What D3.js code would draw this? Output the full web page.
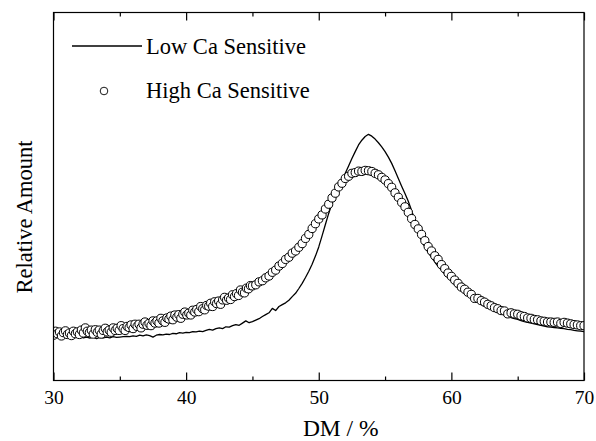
<!DOCTYPE html>
<html>
<head>
<meta charset="utf-8">
<script src="https://cdn.jsdelivr.net/npm/d3@7"></script>
<style>
  html, body { margin: 0; padding: 0; background: #fff; }
  svg { display: block; }
  text { font-family: "Liberation Serif", "Times New Roman", serif; fill: #000; }
</style>
</head>
<body>
<svg id="chart" width="596" height="441"></svg>
<script>
// ---------- data ----------
const seriesNames = ["Low Ca Sensitive", "High Ca Sensitive"];
const xTickValues = [30, 40, 50, 60, 70];
const xMinorTicks = [35, 45, 55, 65];
const xLabel = "DM / %";
const yLabel = "Relative Amount";

// Low Ca Sensitive (solid line)
const lowDM = [30.00,30.25,30.50,30.75,31.00,31.25,31.50,31.75,32.00,32.25,32.50,32.75,33.00,33.25,33.50,33.75,34.00,34.25,34.50,34.75,35.00,35.25,35.50,35.75,36.00,36.25,36.50,36.75,37.00,37.25,37.50,37.75,38.00,38.25,38.50,38.75,39.00,39.25,39.50,39.75,40.00,40.25,40.50,40.75,41.00,41.25,41.50,41.75,42.00,42.25,42.50,42.75,43.00,43.25,43.50,43.75,44.00,44.25,44.50,44.75,45.00,45.25,45.50,45.75,46.00,46.25,46.50,46.75,47.00,47.25,47.50,47.75,48.00,48.25,48.50,48.75,49.00,49.25,49.50,49.75,50.00,50.25,50.50,50.75,51.00,51.25,51.50,51.75,52.00,52.25,52.50,52.75,53.00,53.25,53.50,53.75,54.00,54.25,54.50,54.75,55.00,55.25,55.50,55.75,56.00,56.25,56.50,56.75,57.00,57.25,57.50,57.75,58.00,58.25,58.50,58.75,59.00,59.25,59.50,59.75,60.00,60.25,60.50,60.75,61.00,61.25,61.50,61.75,62.00,62.25,62.50,62.75,63.00,63.25,63.50,63.75,64.00,64.25,64.50,64.75,65.00,65.25,65.50,65.75,66.00,66.25,66.50,66.75,67.00,67.25,67.50,67.75,68.00,68.25,68.50,68.75,69.00,69.25,69.50,69.75,70.00];
const lowAmt = [12.3,12.0,12.4,11.9,12.1,11.8,12.0,11.7,11.9,11.6,11.8,11.5,11.8,11.4,11.7,11.6,11.8,11.6,11.9,11.7,11.8,11.9,12.0,11.9,12.1,12.0,12.3,12.1,12.4,12.2,11.8,12.3,12.5,12.4,12.6,12.5,12.8,12.7,13.0,12.9,13.1,13.0,13.3,13.2,13.4,13.3,13.6,13.9,13.7,14.1,14.3,14.1,14.6,14.5,14.9,15.2,15.0,15.6,16.2,15.7,16.0,16.4,16.8,17.4,17.9,18.4,19.6,19.0,20.1,20.6,21.1,21.8,22.8,23.7,25.0,26.4,28.0,29.7,31.6,33.8,36.3,39.3,42.4,45.4,48.1,50.3,52.3,54.3,56.3,58.3,60.3,62.2,64.0,65.3,66.3,66.9,66.4,65.6,64.6,63.5,62.2,60.7,59.0,57.0,54.9,52.8,50.8,48.7,46.2,43.5,40.5,38.0,36.3,34.8,33.5,32.2,31.0,30.0,28.9,27.9,27.0,26.1,25.2,24.4,23.7,23.0,22.4,21.8,21.2,20.7,20.2,19.7,19.3,18.9,18.5,18.1,17.8,17.4,17.1,16.8,16.6,16.3,16.0,15.8,15.6,15.4,15.2,15.0,14.8,14.6,14.5,14.4,14.3,14.2,14.1,13.9,13.8,13.6,13.5,13.4,13.3];

// High Ca Sensitive (open circles)
const highDM = [30.00,30.15,30.30,30.45,30.60,30.75,30.90,31.05,31.20,31.35,31.50,31.65,31.80,31.95,32.10,32.25,32.40,32.55,32.70,32.85,33.00,33.15,33.30,33.45,33.60,33.75,33.90,34.05,34.20,34.35,34.50,34.65,34.80,34.95,35.10,35.25,35.40,35.55,35.70,35.85,36.00,36.15,36.30,36.45,36.60,36.75,36.90,37.05,37.20,37.35,37.50,37.65,37.80,37.95,38.10,38.25,38.40,38.55,38.70,38.85,39.00,39.15,39.30,39.45,39.60,39.75,39.90,40.05,40.20,40.35,40.50,40.65,40.80,40.95,41.10,41.25,41.40,41.55,41.70,41.85,42.00,42.15,42.30,42.45,42.60,42.75,42.90,43.05,43.20,43.35,43.50,43.65,43.80,43.95,44.10,44.25,44.40,44.55,44.70,44.85,
  45.00,45.25,45.50,45.75,46.00,46.25,46.50,46.75,47.00,47.25,47.50,47.75,48.00,48.25,48.50,48.75,49.00,49.25,49.50,49.75,50.00,50.25,50.50,50.75,51.00,51.25,51.50,51.75,52.00,52.25,52.50,52.75,53.00,53.25,53.50,53.75,54.00,54.25,54.50,54.75,55.00,55.25,55.50,55.75,56.00,56.25,56.50,56.75,57.00,57.25,57.50,57.75,58.00,58.25,58.50,58.75,59.00,59.25,59.50,59.75,60.00,60.25,60.50,60.75,61.00,61.25,61.50,61.75,62.00,62.25,62.50,62.75,63.00,63.25,63.50,63.75,64.00,64.25,64.50,64.75,65.00,65.25,65.50,65.75,66.00,66.25,66.50,66.75,67.00,67.25,67.50,67.75,68.00,68.25,68.50,68.75,69.00,69.25,69.50,69.75,70.00];
const highAmt = [12.3,13.4,12.7,13.2,12.1,13.0,13.5,12.5,12.9,12.2,13.4,12.7,13.2,12.5,13.7,12.9,14.3,13.4,13.0,13.7,12.6,13.8,13.1,13.7,12.6,13.6,14.2,13.2,13.7,13.1,14.3,13.6,14.2,13.6,14.9,14.1,13.6,14.7,14.4,15.1,14.1,15.3,14.7,15.3,14.3,15.3,15.9,15.0,15.5,14.9,16.2,15.6,16.2,15.6,16.9,16.2,15.8,17.0,16.7,17.5,16.5,17.8,17.2,17.9,16.9,18.0,18.6,17.8,18.3,17.8,19.1,18.6,19.3,18.7,20.1,19.5,19.2,20.4,20.2,21.0,20.1,21.4,20.9,21.6,20.7,21.9,22.6,21.8,22.4,22.0,23.3,22.8,23.6,23.1,24.6,24.0,23.8,25.1,24.9,25.8,
  25.7,26.0,26.8,27.1,27.9,28.4,29.4,30.0,31.1,31.8,32.9,33.5,34.6,35.2,36.2,37.2,38.6,39.7,41.3,42.6,43.9,45.0,46.6,47.9,49.6,50.9,52.6,53.6,54.9,55.5,56.3,56.5,56.9,56.8,57.1,57.0,56.8,56.3,55.9,55.2,54.5,53.5,52.5,51.0,49.8,48.4,47.2,45.7,44.0,42.4,41.2,39.7,38.0,36.4,35.2,33.9,32.9,31.5,30.4,29.2,28.3,27.3,26.4,25.4,24.8,24.0,23.4,22.3,22.3,21.7,21.3,20.7,20.3,19.8,19.5,19.0,18.9,18.1,18.4,18.1,18.0,17.6,17.4,17.0,16.9,16.6,16.5,16.2,16.1,15.9,15.9,15.8,15.9,15.5,15.8,15.6,15.4,15.2,15.1,14.9,14.9];

// ---------- layout ----------
const svg = d3.select("#chart");
const mLeft = 53.5, mRight = 584, mTop = 12.5, mBottom = 380.5;

const x = d3.scaleLinear().domain([30, 70]).range([mLeft, mRight]);
const y = d3.scaleLinear().domain([0, 100]).range([mBottom, mTop]);

const lowData = lowDM.map((d, i) => [d, lowAmt[i]]);
const highData = highDM.map((d, i) => [d, highAmt[i]]);

svg.append("defs").append("clipPath").attr("id", "plotclip")
  .append("rect").attr("x", mLeft).attr("y", mTop).attr("width", mRight - mLeft).attr("height", mBottom - mTop);

const plot = svg.append("g").attr("clip-path", "url(#plotclip)");

// line
plot.append("path")
  .datum(lowData)
  .attr("fill", "none")
  .attr("stroke", "#000")
  .attr("stroke-width", 1.3)
  .attr("stroke-linejoin", "round")
  .attr("d", d3.line().x(d => x(d[0])).y(d => y(d[1])));

// circles
plot.selectAll("circle.hc")
  .data(highData)
  .join("circle")
  .attr("class", "hc")
  .attr("cx", d => x(d[0]))
  .attr("cy", d => y(d[1]))
  .attr("r", 4.1)
  .attr("fill", "#fff")
  .attr("stroke", "#000")
  .attr("stroke-width", 1);

// ---------- axes ----------
const axisG = svg.append("g");
axisG.append("rect")
  .attr("x", mLeft).attr("y", mTop)
  .attr("width", mRight - mLeft).attr("height", mBottom - mTop)
  .attr("fill", "none").attr("stroke", "#000").attr("stroke-width", 1.2);

const xAxisB = d3.axisBottom(x).tickValues(xTickValues).tickSize(-8).tickPadding(9).tickFormat(d3.format("d"));
const gB = axisG.append("g").attr("transform", `translate(0,${mBottom})`).call(xAxisB);
gB.select(".domain").remove();
gB.selectAll(".tick line").attr("stroke", "#000").attr("stroke-width", 1.2);
gB.selectAll(".tick text").attr("font-size", 19.5).attr("font-family", "Liberation Serif, serif").attr("fill", "#000").attr("dy", "0.75em");

const xAxisBm = d3.axisBottom(x).tickValues(xMinorTicks).tickSize(-4).tickFormat("");
const gBm = axisG.append("g").attr("transform", `translate(0,${mBottom})`).call(xAxisBm);
gBm.select(".domain").remove();
gBm.selectAll(".tick line").attr("stroke", "#000").attr("stroke-width", 1.2);

const xAxisT = d3.axisTop(x).tickValues(xTickValues).tickSize(-8).tickFormat("");
const gT = axisG.append("g").attr("transform", `translate(0,${mTop})`).call(xAxisT);
gT.select(".domain").remove();
gT.selectAll(".tick line").attr("stroke", "#000").attr("stroke-width", 1.2);
const xAxisTm = d3.axisTop(x).tickValues(xMinorTicks).tickSize(-4).tickFormat("");
const gTm = axisG.append("g").attr("transform", `translate(0,${mTop})`).call(xAxisTm);
gTm.select(".domain").remove();
gTm.selectAll(".tick line").attr("stroke", "#000").attr("stroke-width", 1.2);

// axis titles
svg.append("text")
  .attr("x", (mLeft + mRight) / 2 + 22)
  .attr("y", 436)
  .attr("text-anchor", "middle")
  .attr("font-size", 23.5)
  .text(xLabel);

svg.append("text")
  .attr("transform", `translate(32,217) rotate(-90)`)
  .attr("text-anchor", "middle")
  .attr("font-size", 22.5)
  .text(yLabel);

// ---------- legend ----------
const leg = svg.append("g");
leg.append("line")
  .attr("x1", 72).attr("x2", 142).attr("y1", 46).attr("y2", 46)
  .attr("stroke", "#000").attr("stroke-width", 1.3);
leg.append("text").attr("x", 146).attr("y", 54).attr("font-size", 22.5).text(seriesNames[0]);
leg.append("circle").attr("cx", 104).attr("cy", 91).attr("r", 3.8)
  .attr("fill", "#fff").attr("stroke", "#000").attr("stroke-width", 0.9);
leg.append("text").attr("x", 146).attr("y", 98).attr("font-size", 22.5).text(seriesNames[1]);
</script>
</body>
</html>
